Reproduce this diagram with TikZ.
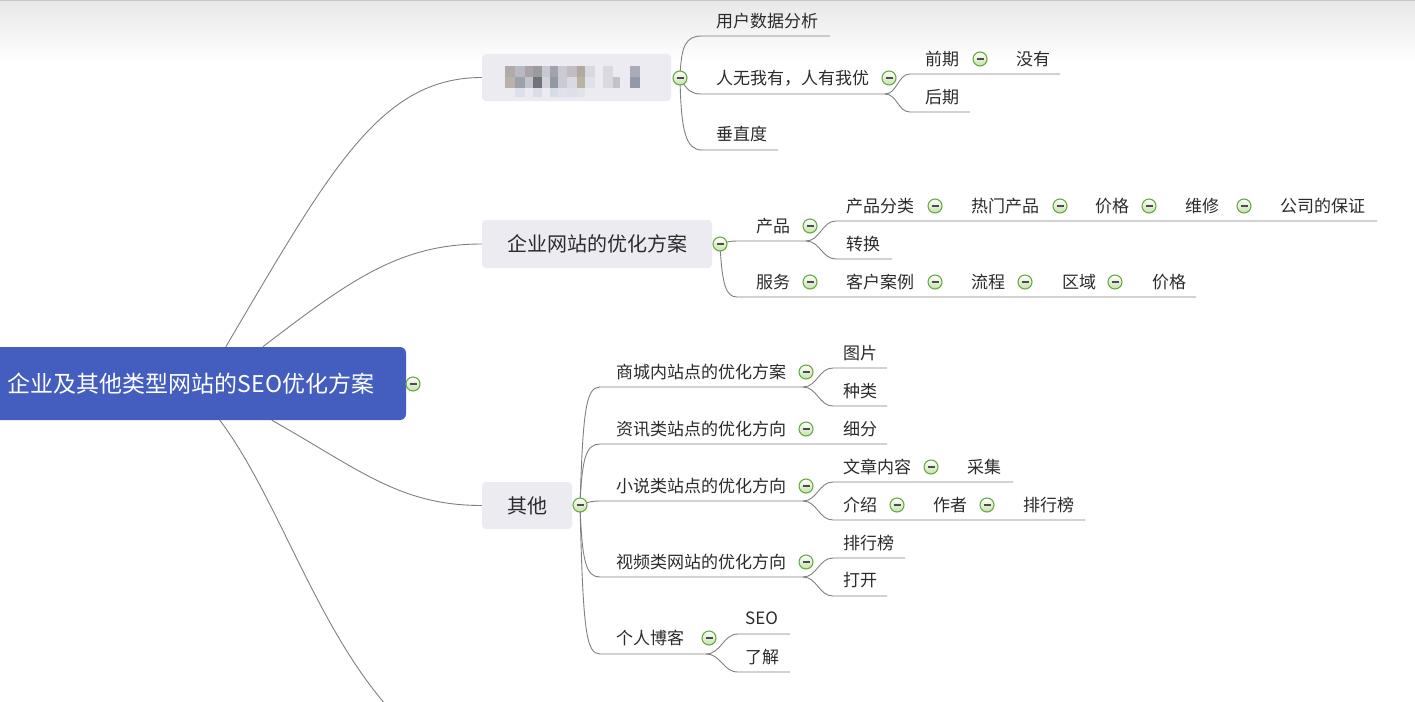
\documentclass[tikz,border=0pt]{standalone}
\usepackage{fontspec}
\setmainfont{Noto Sans CJK SC}
\usetikzlibrary{backgrounds}
\definecolor{rootblue}{HTML}{435EBE}
\definecolor{boxgray}{HTML}{EBEBF1}
\definecolor{txtc}{HTML}{2B2B2B}
\definecolor{linec}{HTML}{808080}
\definecolor{tgreen}{HTML}{6AA842}
\definecolor{tfill}{HTML}{C4E2AC}
\newcommand\mblk[5]{\definecolor{mtmp}{HTML}{#5}\fill[mtmp] (#1,#3) rectangle (#2,#4);}
\tikzset{
 lbl/.style={anchor=west, inner sep=0pt, text=txtc, font=\fontsize{17}{20}\selectfont},
 mainbox/.style={fill=boxgray, rounded corners=4pt, inner sep=0pt, text=txtc, font=\fontsize{20}{24}\selectfont},
 rootbox/.style={fill=rootblue, rounded corners=6pt, inner sep=0pt, text=white, font=\fontsize{23}{27}\selectfont},
 conn/.style={draw=linec, line width=0.9pt},
 tog/.style={circle, draw=tgreen, line width=1.1pt, top color=white, bottom color=tfill, minimum size=14pt, inner sep=0pt,
   path picture={\draw[black!70, line width=1.1pt] ([xshift=-3.5pt]path picture bounding box.center) -- ([xshift=3.5pt]path picture bounding box.center);}},
}
\begin{document}
\begin{tikzpicture}[x=1pt,y=-1pt]
\useasboundingbox (0,0) rectangle (1415,701);
\clip (0,0) rectangle (1415,701);
\begin{scope}[on background layer]
\fill[white] (0,0) rectangle (1415,701);
\shade[top color=black!9, bottom color=white] (0,0) rectangle (1415,62);
\draw[black!22, line width=1pt] (0,0.5) -- (1415,0.5);
\end{scope}

% main nodes
\node[rootbox, minimum width=430pt, minimum height=73pt] (root) at (191,383.5) {企业及其他类型网站的SEO优化方案};
\node[mainbox, minimum width=189pt, minimum height=47pt] (b1) at (576.5,77.5) {};
\node[mainbox, minimum width=230pt, minimum height=48pt] (b2) at (597,244) {企业网站的优化方案};
\node[mainbox, minimum width=90pt, minimum height=47pt] (b3) at (527,505.5) {其他};

% mosaic (blurred text)
\mblk{505}{515}{66}{77}{B2AAA8}\mblk{515}{525}{66}{77}{BAB9C2}\mblk{525}{533}{66}{77}{ABA3AA}
\mblk{533}{542}{66}{77}{9B9B9D}\mblk{542}{550}{66}{77}{C9C8D0}\mblk{550}{558}{66}{77}{A2A2AA}
\mblk{558}{567}{66}{77}{CACAD2}\mblk{567}{577}{66}{77}{C3BBC2}\mblk{577}{585}{66}{77}{B1A9A0}
\mblk{585}{595}{66}{77}{D9D9E1}\mblk{603}{613}{66}{77}{D9D9E1}\mblk{630}{640}{66}{77}{AAAAB8}
\mblk{505}{515}{77}{88}{B9B1AA}\mblk{515}{525}{77}{88}{9CA2AA}\mblk{525}{533}{77}{88}{C3C3CB}
\mblk{533}{542}{77}{88}{6E7279}\mblk{542}{550}{77}{88}{D2D2DA}\mblk{550}{558}{77}{88}{9299A2}
\mblk{558}{567}{77}{88}{CACAD2}\mblk{567}{577}{77}{88}{D9D9E1}\mblk{577}{585}{77}{88}{BAB2A2}
\mblk{585}{595}{77}{88}{E1E1E9}\mblk{603}{613}{77}{88}{D9D9E1}\mblk{613}{620}{77}{88}{C2C2CA}
\mblk{630}{640}{77}{88}{9299A9}
\mblk{515}{525}{88}{97}{DDE0E8}\mblk{533}{542}{88}{97}{DADDE6}\mblk{550}{558}{88}{97}{D8DCE4}
\mblk{558}{567}{88}{97}{DFE2EA}\mblk{567}{577}{88}{97}{DDE0E8}\mblk{577}{585}{88}{97}{E0E3EA}

% top group labels
\node[lbl] (yh) at (716,21) {用户数据分析};
\node[lbl] (rw) at (716,78) {人无我有，人有我优};
\node[lbl] (czd) at (716,134) {垂直度};
\node[lbl] (qq) at (925,59) {前期};
\node[lbl] (my) at (1016,59) {没有};
\node[lbl] (hq) at (925,97) {后期};

% middle group labels
\node[lbl] (cp) at (756,226) {产品};
\node[lbl] (cpfl) at (846,206) {产品分类};
\node[lbl] (rmcp) at (971,206) {热门产品};
\node[lbl] (jga) at (1095,206) {价格};
\node[lbl] (wx) at (1185,206) {维修};
\node[lbl] (gs) at (1280,206) {公司的保证};
\node[lbl] (zh) at (846,244) {转换};
\node[lbl] (fw) at (756,282) {服务};
\node[lbl] (khal) at (846,282) {客户案例};
\node[lbl] (lc) at (971,282) {流程};
\node[lbl] (qy) at (1062,282) {区域};
\node[lbl] (jgb) at (1152,282) {价格};

% bottom group labels
\node[lbl] (sc) at (616,372) {商城内站点的优化方案};
\node[lbl] (zx) at (616,429) {资讯类站点的优化方向};
\node[lbl] (xs) at (616,486) {小说类站点的优化方向};
\node[lbl] (sp) at (616,562) {视频类网站的优化方向};
\node[lbl] (gr) at (616,638) {个人博客};
\node[lbl] (tp) at (843,353) {图片};
\node[lbl] (zl) at (843,391) {种类};
\node[lbl] (xf) at (843,429) {细分};
\node[lbl] (wz) at (843,467) {文章内容};
\node[lbl] (cj) at (967,467) {采集};
\node[lbl] (js) at (843,505) {介绍};
\node[lbl] (zz) at (933,505) {作者};
\node[lbl] (phba) at (1023,505) {排行榜};
\node[lbl] (phbb) at (843,543) {排行榜};
\node[lbl] (dk) at (843,580) {打开};
\node[lbl] (seo) at (745,618) {SEO};
\node[lbl] (lj) at (745,657) {了解};

% collapse toggles
\node[tog] (t-root) at (413,384) {};
\node[tog] (t-b1) at (680,78) {};
\node[tog] (t-b2) at (720,244) {};
\node[tog] (t-b3) at (580,505) {};
\node[tog] (t-rw) at (889,78) {};
\node[tog] (t-qq) at (980,59) {};
\node[tog] (t-cp) at (810,226) {};
\node[tog] (t-cpfl) at (935,206) {};
\node[tog] (t-rmcp) at (1060,206) {};
\node[tog] (t-jga) at (1149,206) {};
\node[tog] (t-wx) at (1244,206) {};
\node[tog] (t-fw) at (810,282) {};
\node[tog] (t-khal) at (935,282) {};
\node[tog] (t-lc) at (1025,282) {};
\node[tog] (t-qy) at (1115,282) {};
\node[tog] (t-sc) at (806,372) {};
\node[tog] (t-zx) at (806,429) {};
\node[tog] (t-xs) at (806,486) {};
\node[tog] (t-sp) at (806,562) {};
\node[tog] (t-gr) at (709,638) {};
\node[tog] (t-wz) at (931,467) {};
\node[tog] (t-js) at (897,505) {};
\node[tog] (t-zz) at (987,505) {};

% underline coordinates
\coordinate (yhA) at (702,36); \coordinate (yhB) at (830,36);
\coordinate (rwA) at (702,94); \coordinate (rwB) at (885,94);
\coordinate (czA) at (702,150); \coordinate (czB) at (778,150);
\coordinate (qqA) at (910,74); \coordinate (qqB) at (1060,74);
\coordinate (hqA) at (910,112); \coordinate (hqB) at (970,112);
\coordinate (cpA) at (737,241); \coordinate (cpB) at (806,241);
\coordinate (flA) at (836,221); \coordinate (flB) at (1377,221);
\coordinate (zhA) at (836,259); \coordinate (zhB) at (892,259);
\coordinate (fwA) at (737,297); \coordinate (fwB) at (1196,297);
\coordinate (scA) at (600,387); \coordinate (scB) at (803,387);
\coordinate (tpA) at (833,368); \coordinate (tpB) at (887,368);
\coordinate (zlA) at (833,406); \coordinate (zlB) at (887,406);
\coordinate (zxA) at (600,444); \coordinate (zxB) at (887,444);
\coordinate (xsA) at (600,501); \coordinate (xsB) at (803,501);
\coordinate (wzA) at (833,482); \coordinate (wzB) at (1013,482);
\coordinate (jsA) at (833,520); \coordinate (jsB) at (1085,520);
\coordinate (spA) at (600,577); \coordinate (spB) at (803,577);
\coordinate (phA) at (833,558); \coordinate (phB) at (905,558);
\coordinate (dkA) at (833,596); \coordinate (dkB) at (887,596);
\coordinate (grA) at (600,654); \coordinate (grB) at (706,654);
\coordinate (seoA) at (738,634); \coordinate (seoB) at (790,634);
\coordinate (ljA) at (738,672); \coordinate (ljB) at (790,672);
\coordinate (off) at (400,720);

\begin{scope}[on background layer]
% root branches
\draw[conn] ([xshift=250pt]root.north west) .. controls (330,170) and (380,77.5) .. (b1.west);
\draw[conn] ([xshift=287pt]root.north west) .. controls (350,280) and (400,244) .. (b2.west);
\draw[conn] ([xshift=296pt]root.south west) .. controls (360,470) and (400,505.5) .. (b3.west);
\draw[conn] ([xshift=244pt]root.south west) .. controls (280,500) and (320,640) .. (off);
% top group
\draw[conn] (t-b1.center) .. controls (681,45) and (686,36) .. (yhA) -- (yhB);
\draw[conn] (t-b1.center) .. controls (688,92) and (692,94) .. (rwA) -- (rwB);
\draw[conn] (t-b1.center) .. controls (681,132) and (686,150) .. (czA) -- (czB);
\draw[conn] (rwB) .. controls (897,94) and (898,74) .. (qqA) -- (qqB);
\draw[conn] (rwB) .. controls (897,94) and (898,112) .. (hqA) -- (hqB);
% middle group
\draw[conn] (t-b2.center) .. controls (727,242) and (730,241) .. (cpA) -- (cpB);
\draw[conn] (t-b2.center) .. controls (722,285) and (726,297) .. (fwA) -- (fwB);
\draw[conn] (cpB) .. controls (820,241) and (822,221) .. (flA) -- (flB);
\draw[conn] (cpB) .. controls (820,241) and (822,259) .. (zhA) -- (zhB);
% bottom group
\draw[conn] (t-b3.center) .. controls (583,410) and (586,387) .. (scA) -- (scB);
\draw[conn] (t-b3.center) .. controls (582,458) and (586,444) .. (zxA) -- (zxB);
\draw[conn] (t-b3.center) .. controls (588,502) and (592,501) .. (xsA) -- (xsB);
\draw[conn] (t-b3.center) .. controls (582,562) and (586,577) .. (spA) -- (spB);
\draw[conn] (t-b3.center) .. controls (583,630) and (586,654) .. (grA) -- (grB);
\draw[conn] (scB) .. controls (817,387) and (819,368) .. (tpA) -- (tpB);
\draw[conn] (scB) .. controls (817,387) and (819,406) .. (zlA) -- (zlB);
\draw[conn] (xsB) .. controls (817,501) and (819,482) .. (wzA) -- (wzB);
\draw[conn] (xsB) .. controls (817,501) and (819,520) .. (jsA) -- (jsB);
\draw[conn] (spB) .. controls (817,577) and (819,558) .. (phA) -- (phB);
\draw[conn] (spB) .. controls (817,577) and (819,596) .. (dkA) -- (dkB);
\draw[conn] (grB) .. controls (721,654) and (723,634) .. (seoA) -- (seoB);
\draw[conn] (grB) .. controls (721,654) and (723,672) .. (ljA) -- (ljB);
\end{scope}
\end{tikzpicture}
\end{document}
